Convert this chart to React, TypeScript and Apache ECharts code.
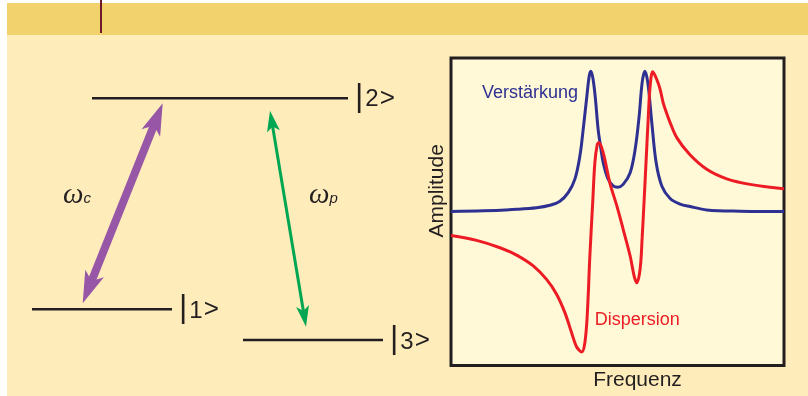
import React, { useEffect, useRef } from 'react';
import * as echarts from 'echarts';

// Gain (Verstärkung) curve: [frequency, amplitude]
const gainCurve: [number, number][] = [
  [0, 50.1], [9.7, 50.3], [19.7, 50.8], [25.7, 51.3], [29.7, 52.1], [32.7, 53.4],
  [35.2, 56.2], [37.2, 60.6], [38.7, 68.1], [39.7, 76.8], [40.8, 87.6], [41.5, 94.1],
  [42.0, 95.7], [42.6, 93.5], [43.3, 87.5], [44.2, 76.6], [44.9, 71.4], [45.7, 66.0],
  [47.2, 60.6], [48.7, 58.4], [50.1, 58.0], [51.7, 58.9], [53.8, 62.7], [55.3, 70.3],
  [56.5, 81.1], [57.4, 92.0], [58.2, 95.7], [59.1, 92.0], [60.3, 79.0], [61.6, 66.0],
  [63.3, 58.4], [65.8, 54.3], [68.8, 52.5], [71.8, 51.7], [76.8, 50.6], [86.8, 50.2],
  [100, 50.1],
];

// Dispersion curve: [frequency, amplitude]
const dispersionCurve: [number, number][] = [
  [0, 42.3], [7.7, 40.7], [14.7, 38.3], [19.7, 35.9], [24.7, 32.4], [28.7, 28.0],
  [31.7, 23.2], [34.2, 17.2], [36.2, 10.7], [37.7, 6.1], [39.3, 4.4], [40.2, 7.4],
  [40.9, 16.1], [41.7, 35.6], [42.6, 54.0], [43.2, 66.0], [43.9, 71.7], [44.4, 72.5],
  [45.7, 69.2], [47.7, 59.4], [49.8, 51.9], [51.7, 44.3], [53.8, 35.6], [55.0, 29.1],
  [55.8, 26.9], [56.8, 31.4], [57.4, 41.5], [58.0, 53.8], [58.6, 66.8], [59.2, 79.8],
  [59.8, 90.9], [60.6, 95.5], [61.8, 93.0], [62.8, 89.8], [63.7, 85.5], [64.7, 82.2],
  [65.8, 79.0], [67.8, 74.1], [71.7, 68.6], [76.8, 63.8], [82.8, 60.7], [89.8, 58.9],
  [100, 57.5],
];

const xTitle = 'Frequenz';
const yTitle = 'Amplitude';
const gainName = 'Verstärkung';
const dispersionName = 'Dispersion';
const levelNames = ['1', '2', '3'];
const couplingLabel = ['ω', 'c'];
const probeLabel = ['ω', 'p'];

const BLUE = '#2E3192';
const RED = '#ED1C24';
const INK = '#231F20';
const PURPLE = '#9756A6';
const GREEN = '#00A651';
const SANS = '"Liberation Sans", Arial, sans-serif';
const SERIF = '"Liberation Serif", serif';

type P = [number, number];

function headPoints(tip: P, tail: P, len: number, half: number, notch: number): number[][] {
  const dx = tip[0] - tail[0];
  const dy = tip[1] - tail[1];
  const d = Math.hypot(dx, dy);
  const ux = dx / d, uy = dy / d;
  const nx = -uy, ny = ux;
  const bx = tip[0] - ux * len, by = tip[1] - uy * len;
  const mx = tip[0] - ux * notch, my = tip[1] - uy * notch;
  return [[tip[0], tip[1]], [bx + nx * half, by + ny * half], [mx, my], [bx - nx * half, by - ny * half]];
}

function doubleArrow(a: P, b: P, len: number, half: number, notch: number, width: number, color: string) {
  const dx = b[0] - a[0], dy = b[1] - a[1];
  const d = Math.hypot(dx, dy);
  const ux = dx / d, uy = dy / d;
  const s1 = [a[0] + ux * (notch - 1), a[1] + uy * (notch - 1)];
  const s2 = [b[0] - ux * (notch - 1), b[1] - uy * (notch - 1)];
  return [
    { type: 'line', shape: { x1: s1[0], y1: s1[1], x2: s2[0], y2: s2[1] }, style: { stroke: color, lineWidth: width }, z: 10 },
    { type: 'polygon', shape: { points: headPoints(a, b, len, half, notch) }, style: { fill: color }, z: 11 },
    { type: 'polygon', shape: { points: headPoints(b, a, len, half, notch) }, style: { fill: color }, z: 11 },
  ];
}

function levelLabel(name: string, x: number, y: number) {
  return {
    type: 'text',
    x,
    y,
    z: 20,
    style: {
      text: `{b||}{d|${name}}{g|>}`,
      verticalAlign: 'bottom',
      textVerticalAlign: 'bottom',
      align: 'left',
      textAlign: 'left',
      fill: INK,
      rich: {
        b: { fontSize: 32, lineHeight: 32, height: 32, fontFamily: SANS, fill: INK, verticalAlign: 'bottom' },
        d: { fontSize: 24, lineHeight: 26.4, height: 26.4, fontFamily: SANS, fill: INK, verticalAlign: 'bottom', padding: [0, 0, 0, 2] },
        g: { fontSize: 26, lineHeight: 27.8, height: 27.8, fontFamily: SANS, fill: INK, verticalAlign: 'bottom', padding: [0, 0, 0, 1] },
      },
    },
  };
}

function omegaLabel(parts: string[], x: number, y: number) {
  return {
    type: 'text',
    x,
    y,
    z: 20,
    style: {
      text: `{w|${parts[0]}}{s|${parts[1]}}`,
      verticalAlign: 'bottom',
      textVerticalAlign: 'bottom',
      align: 'left',
      textAlign: 'left',
      fill: INK,
      rich: {
        w: { fontSize: 29, lineHeight: 29, height: 29, fontFamily: SERIF, fontStyle: 'italic', fill: INK, verticalAlign: 'bottom' },
        s: { fontSize: 15, lineHeight: 19.6, height: 19.6, fontFamily: SANS, fontStyle: 'italic', fill: INK, verticalAlign: 'bottom' },
      },
    },
  };
}

function plainText(text: string, x: number, y: number, size: number, color: string, align: string, rotation = 0) {
  return {
    type: 'text',
    x,
    y,
    rotation,
    z: 20,
    style: {
      text,
      fontSize: size,
      fontFamily: SANS,
      fill: color,
      align,
      textAlign: align,
      verticalAlign: 'middle',
      textVerticalAlign: 'middle',
    },
  };
}

export default function App() {
  const ref = useRef<HTMLDivElement>(null);

  useEffect(() => {
    if (!ref.current) return;
    const chart = echarts.init(ref.current, undefined, { renderer: 'svg' });

    const graphics: any[] = [
      { type: 'rect', shape: { x: 7, y: 3, width: 801, height: 393 }, style: { fill: '#FEECBB' }, z: -100 },
      { type: 'rect', shape: { x: 7, y: 3, width: 801, height: 32 }, style: { fill: '#F2D26C' }, z: -99 },
      { type: 'line', shape: { x1: 101, y1: 0, x2: 101, y2: 33 }, style: { stroke: '#6E1A2A', lineWidth: 2 }, z: -98 },
      // energy levels
      { type: 'line', shape: { x1: 92, y1: 98.3, x2: 348, y2: 98.3 }, style: { stroke: INK, lineWidth: 2.6 }, z: 5 },
      { type: 'line', shape: { x1: 32, y1: 309.3, x2: 172, y2: 309.3 }, style: { stroke: INK, lineWidth: 2.6 }, z: 5 },
      { type: 'line', shape: { x1: 243, y1: 340, x2: 383, y2: 340 }, style: { stroke: INK, lineWidth: 2.6 }, z: 5 },
      levelLabel(levelNames[1], 355, 110.5),
      levelLabel(levelNames[0], 179, 322.3),
      levelLabel(levelNames[2], 390, 353.3),
      ...doubleArrow([162.7, 103.3], [82.7, 303.3], 32, 10, 24, 8, PURPLE),
      ...doubleArrow([270, 110.7], [306, 326.7], 21, 6.5, 16, 3, GREEN),
      omegaLabel(couplingLabel, 63, 207.5),
      omegaLabel(probeLabel, 309, 207.5),
      // chart annotations
      plainText(gainName, 482, 92.1, 18, BLUE, 'left'),
      plainText(dispersionName, 594.7, 319.1, 18, RED, 'left'),
      plainText(xTitle, 637.5, 378.4, 21, INK, 'center'),
      plainText(yTitle, 435, 190.8, 21, INK, 'center', Math.PI / 2),
    ];

    chart.setOption({
      animation: false,
      grid: {
        left: 451,
        top: 58,
        width: 333,
        height: 307.5,
        show: true,
        backgroundColor: '#FFF9D8',
        borderColor: INK,
        borderWidth: 3,
      },
      xAxis: { type: 'value', min: 0, max: 100, show: false },
      yAxis: { type: 'value', min: 0, max: 100, show: false },
      series: [
        {
          type: 'line',
          name: gainName,
          data: gainCurve,
          symbol: 'none',
          smooth: 0.35,
          lineStyle: { color: BLUE, width: 3 },
          z: 3,
        },
        {
          type: 'line',
          name: dispersionName,
          data: dispersionCurve,
          symbol: 'none',
          smooth: 0.35,
          lineStyle: { color: RED, width: 3 },
          z: 4,
        },
      ],
      graphic: graphics,
    });

    return () => chart.dispose();
  }, []);

  return <div ref={ref} style={{ position: 'fixed', left: 0, top: 0, width: 808, height: 396 }} />;
}
